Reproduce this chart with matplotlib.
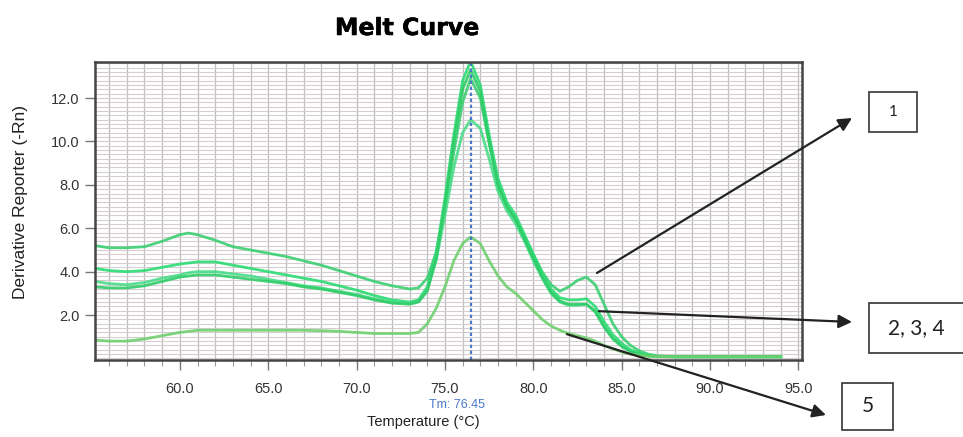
import numpy as np
import matplotlib.pyplot as plt
import matplotlib.patheffects as pe
from matplotlib.patches import Rectangle
from matplotlib.ticker import MultipleLocator

# temperature grid (deg C) shared by all curves
temp = [55.2, 56, 57, 58, 59, 60, 60.5, 61, 62, 63, 64, 65, 66, 67, 68, 69, 70, 71, 72, 73,
        73.5, 74, 74.5, 75, 75.5, 76, 76.45, 77, 77.5, 78, 78.5, 79, 79.5, 80, 80.5, 81,
        81.5, 82, 82.5, 83, 83.5, 84, 84.5, 85, 85.5, 86, 86.5, 87, 88, 89, 90, 91, 92, 93, 94]

curve1 = [5.2, 5.1, 5.1, 5.15, 5.4, 5.7, 5.78, 5.7, 5.45, 5.15, 5.0, 4.85, 4.7, 4.5, 4.3, 4.05, 3.8, 3.55, 3.35, 3.2,
          3.25, 3.7, 4.9, 7.0, 9.5, 11.8, 12.9, 12.0, 9.9, 8.0, 7.0, 6.4, 5.6, 4.8, 4.0, 3.4,
          3.1, 3.3, 3.6, 3.75, 3.4, 2.5, 1.6, 1.0, 0.6, 0.35, 0.2, 0.12, 0.08, 0.08, 0.08, 0.08, 0.08, 0.08, 0.08]
curve2 = [4.15, 4.05, 4.0, 4.05, 4.2, 4.35, 4.4, 4.45, 4.45, 4.3, 4.15, 4.0, 3.85, 3.7, 3.55, 3.35, 3.15, 2.9, 2.7, 2.6,
          2.7, 3.3, 4.8, 7.4, 10.3, 12.8, 13.7, 12.6, 10.3, 8.3, 7.2, 6.6, 5.7, 4.8, 3.9, 3.2,
          2.8, 2.7, 2.7, 2.75, 2.4, 1.7, 1.1, 0.7, 0.4, 0.25, 0.15, 0.1, 0.08, 0.08, 0.08, 0.08, 0.08, 0.08, 0.08]
curve3 = [3.55, 3.45, 3.4, 3.5, 3.7, 3.85, 3.95, 4.0, 4.0, 3.9, 3.8, 3.65, 3.5, 3.35, 3.25, 3.1, 2.95, 2.75, 2.6, 2.55,
          2.65, 3.2, 4.5, 6.6, 8.8, 10.4, 11.0, 10.6, 9.2, 7.7, 6.8, 6.2, 5.4, 4.5, 3.7, 3.0,
          2.6, 2.45, 2.45, 2.5, 2.2, 1.5, 0.95, 0.6, 0.35, 0.2, 0.12, 0.09, 0.08, 0.08, 0.08, 0.08, 0.08, 0.08, 0.08]
curve4 = [3.3, 3.25, 3.25, 3.35, 3.55, 3.75, 3.8, 3.85, 3.85, 3.75, 3.65, 3.55, 3.45, 3.3, 3.2, 3.05, 2.9, 2.7, 2.55, 2.5,
          2.6, 3.1, 4.6, 7.1, 10.0, 12.4, 13.3, 12.3, 10.0, 8.0, 7.0, 6.4, 5.5, 4.6, 3.75, 3.05,
          2.65, 2.5, 2.5, 2.5, 2.15, 1.45, 0.9, 0.55, 0.32, 0.2, 0.12, 0.09, 0.08, 0.08, 0.08, 0.08, 0.08, 0.08, 0.08]
curve5 = [0.85, 0.8, 0.8, 0.9, 1.05, 1.2, 1.25, 1.3, 1.3, 1.3, 1.3, 1.3, 1.3, 1.3, 1.28, 1.25, 1.2, 1.15, 1.15, 1.15,
          1.2, 1.6, 2.3, 3.3, 4.5, 5.3, 5.6, 5.3, 4.5, 3.8, 3.3, 3.0, 2.6, 2.2, 1.8, 1.5,
          1.3, 1.15, 1.05, 0.95, 0.8, 0.6, 0.45, 0.3, 0.2, 0.15, 0.11, 0.09, 0.08, 0.08, 0.08, 0.08, 0.08, 0.08, 0.08]

curves = [curve1, curve2, curve3, curve4, curve5]
colors = ['#3ccf72', '#2bdc74', '#48dc88', '#2fcc68', '#6fd06f']
tm = 76.45

# callout labels, and where each arrow leaves the curves (temp, value)
labels = ['1', '2, 3, 4', '5']
arrow_from = [(83.6, 3.94), (83.7, 2.18), (81.9, 1.12)]

plt.rcParams['font.family'] = ['Liberation Sans', 'DejaVu Sans']
narrow = ['Liberation Sans Narrow', 'Liberation Sans', 'DejaVu Sans']

W, H = 963, 437
fig = plt.figure(figsize=(W / 100, H / 100), dpi=100)
ax = fig.add_axes([95 / W, 1 - 360 / H, 707 / W, 298 / H])

ax.xaxis.set_minor_locator(MultipleLocator(1))
ax.yaxis.set_minor_locator(MultipleLocator(0.2))
ax.set_xticks([60, 65, 70, 75, 80, 85, 90, 95])
ax.set_xticklabels(['%.1f' % v for v in [60, 65, 70, 75, 80, 85, 90, 95]])
ax.set_yticks([2, 4, 6, 8, 10, 12])
ax.set_yticklabels(['%.1f' % v for v in [2, 4, 6, 8, 10, 12]])
ax.grid(which='minor', axis='y', color='#d6cdd0', lw=0.8)
ax.grid(which='major', axis='y', color='#d6cdd0', lw=0.8)
ax.grid(which='both', axis='x', color='#bdbdbd', lw=0.9)
ax.set_axisbelow(True)
ax.tick_params(which='major', length=7, width=1, color='#777', labelsize=10.5,
               labelcolor='#333', pad=9)
ax.tick_params(axis='y', which='major', pad=4)
ax.tick_params(which='minor', length=4, width=0.8, color='#999')
ax.tick_params(axis='y', which='minor', length=0)
for s in ax.spines.values():
    s.set_color('#444')
    s.set_linewidth(1.8)

for c, col in zip(curves, colors):
    ax.plot(temp, c, color=col, lw=2.0, alpha=0.9, solid_joinstyle='round')

ax.axvline(tm, color='#4a78c8', lw=1.6, ls=(0, (1.5, 1.2)))
ax.set_xlim(55.2, 95.2)
ax.set_ylim(-0.07, 13.66)

ax.annotate('Tm: %.2f' % tm, xy=(tm, 0), xycoords=('data', 'axes fraction'),
            xytext=(-14, -45), textcoords='offset pixels', ha='center', va='center',
            color='#4a78c8', fontsize=9, family=narrow)

fig.text(407 / W, 1 - 28 / H, 'Melt Curve', ha='center', va='center',
         fontsize=17, fontweight='bold', family=['DejaVu Sans'],
         path_effects=[pe.withStroke(linewidth=0.4, foreground='black')])
fig.text(423 / W, 1 - 422 / H, 'Temperature (°C)', ha='center', va='center',
         fontsize=10.5, color='#222', family=narrow)
fig.text(21 / W, 1 - 202 / H, 'Derivative Reporter (-Rn)', ha='center', va='center',
         rotation=90, fontsize=12.5, color='#222')

# callout boxes (pixel positions, top-left origin)
boxes = [(869, 92, 48, 40), (869, 303, 100, 50), (842, 383, 51, 47)]
heads = [(852, 118), (852, 322), (826, 415)]
sizes = [11, 15, 15]
for lab, (bx, by, bw, bh), (hx, hy), src, fs in zip(labels, boxes, heads, arrow_from, sizes):
    fig.add_artist(Rectangle((bx / W, 1 - (by + bh) / H), bw / W, bh / H,
                             transform=fig.transFigure, fc='white', ec='#333', lw=1.2))
    tx = bx + bw / 2 if lab != '2, 3, 4' else 916
    fig.text(tx / W, 1 - (by + bh / 2) / H, lab, ha='center', va='center',
             fontsize=fs, family=['Lato', 'DejaVu Sans'], color='#222')
    ax.annotate('', xy=(hx / W, 1 - hy / H), xycoords='figure fraction',
                xytext=src, textcoords='data', annotation_clip=False,
                arrowprops=dict(arrowstyle='-|>', color='#222', lw=1.6,
                                mutation_scale=20, shrinkA=0, shrinkB=0))

fig.savefig('out.png', dpi=100)
